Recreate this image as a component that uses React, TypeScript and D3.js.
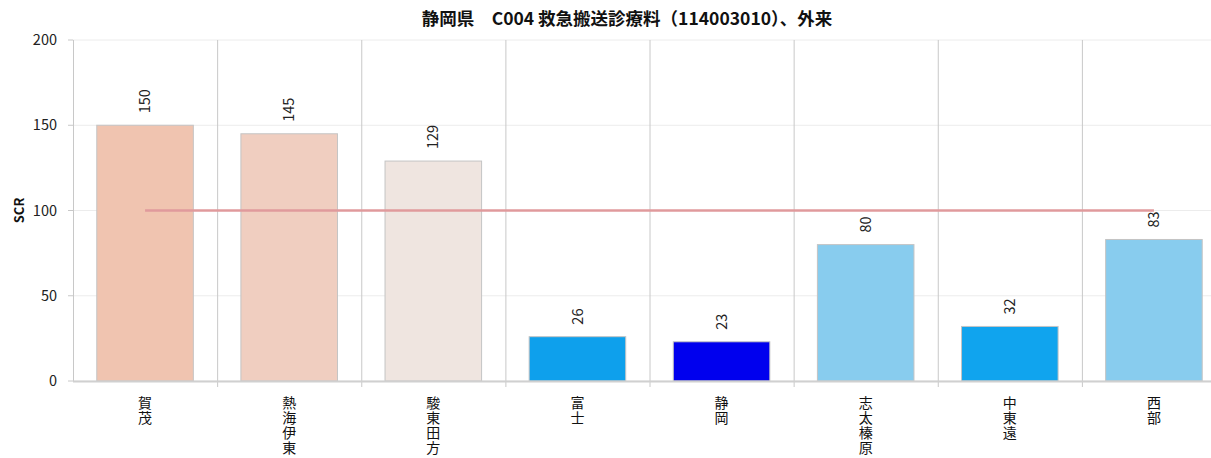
import React from "react";
import * as d3 from "d3";

const title = "静岡県　C004 救急搬送診療料（114003010）、外来";
const yLabel = "SCR";
const categories = ["賀茂", "熱海伊東", "駿東田方", "富士", "静岡", "志太榛原", "中東遠", "西部"];
const values = [150, 145, 129, 26, 23, 80, 32, 83];
const barColors = ["#f0c4b0", "#f0cec0", "#efe5e0", "#0ea0ec", "#0000ee", "#88ccee", "#10a4ee", "#88ccee"];
const yTicks = [0, 50, 100, 150, 200];
const referenceValue = 100;

const W = 1211;
const H = 458;
const margin = { left: 73, top: 40, bottom: 381, right: 1226 };
const font = "'Noto Sans CJK JP', 'Noto Sans', sans-serif";

export default function App() {
  const x = d3.scaleBand<string>().domain(categories).range([margin.left, margin.right]).paddingInner(0.33).paddingOuter(0.165);
  const band = d3.scaleBand<string>().domain(categories).range([margin.left, margin.right]);
  const y = d3.scaleLinear().domain([0, 200]).range([margin.bottom, margin.top]);
  const step = band.step();
  const cx = (c: string) => (band(c) as number) + step / 2;

  return (
    <svg width={W} height={H} style={{ position: "absolute", left: 0, top: 0, fontFamily: font }}>
      <rect x={0} y={0} width={W} height={H} fill="#fff" />
      {/* horizontal gridlines */}
      {yTicks.map((t) => (
        <line key={"g" + t} x1={margin.left} x2={W} y1={y(t)} y2={y(t)} stroke="#ececec" strokeWidth={1} />
      ))}
      {/* category separators */}
      {categories.slice(1).map((c) => (
        <line key={"s" + c} x1={(band(c) as number) + 0.5} x2={(band(c) as number) + 0.5} y1={margin.top} y2={margin.bottom + 6} stroke="#c8c8c8" strokeWidth={1} />
      ))}
      {/* bars */}
      {categories.map((c, i) => (
        <rect key={"b" + c} x={x(c)} y={y(values[i])} width={x.bandwidth()} height={y(0) - y(values[i])} fill={barColors[i]} stroke="#c4c4c4" strokeWidth={1} />
      ))}
      {/* reference line */}
      <line x1={cx(categories[0])} x2={cx(categories[categories.length - 1])} y1={y(referenceValue)} y2={y(referenceValue)} stroke="#e09a9c" strokeWidth={2.5} />
      {/* axes */}
      <line x1={margin.left + 0.5} x2={margin.left + 0.5} y1={margin.top} y2={margin.bottom} stroke="#c8c8c8" />
      <line x1={margin.left} x2={W} y1={margin.bottom + 0.5} y2={margin.bottom + 0.5} stroke="#d0d0d0" strokeWidth={2} />
      {yTicks.map((t) => (
        <g key={"t" + t}>
          <line x1={margin.left - 5} x2={margin.left} y1={y(t)} y2={y(t)} stroke="#c8c8c8" />
          <text x={margin.left - 16} y={y(t)} dy="0.35em" textAnchor="end" fontSize={14.5} fill="#222">{t}</text>
        </g>
      ))}
      {/* value labels */}
      {categories.map((c, i) => (
        <text key={"v" + c} transform={`translate(${cx(c)},${y(values[i]) - 12}) rotate(-90)`} dy="0.35em" fontSize={14.5} fill="#222">{values[i]}</text>
      ))}
      {/* category labels, set vertically */}
      {categories.map((c) => (
        <text key={"c" + c} x={cx(c)} y={396} style={{ writingMode: "vertical-rl" }} letterSpacing={1} fontSize={14} fill="#111">{c}</text>
      ))}
      {/* y-axis label */}
      <text transform={`translate(19,${(margin.top + margin.bottom) / 2}) rotate(-90)`} textAnchor="middle" dy="0.35em" fontSize={13} fontWeight="bold" fill="#111">{yLabel}</text>
      {/* title */}
      <text x={627} y={25} textAnchor="middle" fontSize={17.5} fontWeight="bold" fill="#111">{title}</text>
    </svg>
  );
}
